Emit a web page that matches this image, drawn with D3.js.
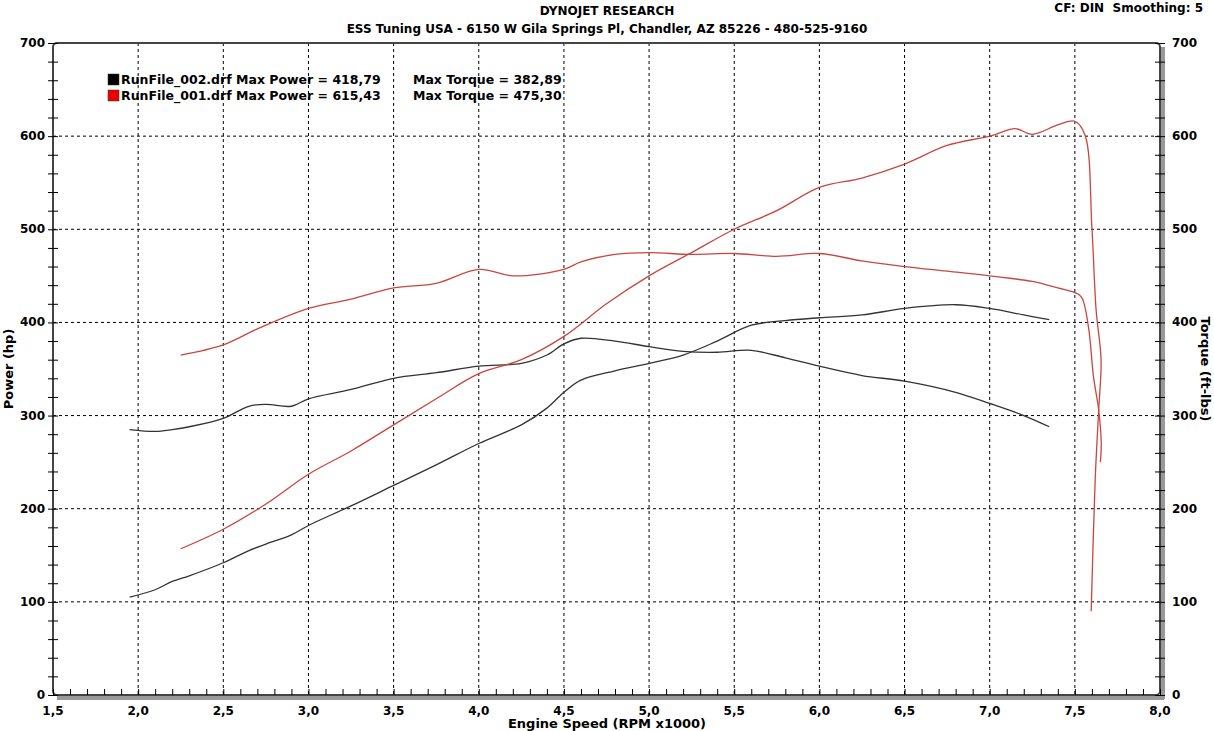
<!DOCTYPE html>
<html><head><meta charset="utf-8">
<script src="https://cdn.jsdelivr.net/npm/d3@7"></script>
<style>body{margin:0;background:#fff}svg{font-family:"DejaVu Sans",Verdana,sans-serif;font-weight:bold}</style>
</head><body><div id="chart"></div>
<script>
// run 002 (black)
const rpm002 = [1.95,2.1,2.2,2.3,2.5,2.65,2.75,2.9,3.0,3.25,3.5,3.75,4.0,4.25,4.4,4.5,4.6,4.8,5.0,5.2,5.4,5.6,5.8,6.0,6.25,6.5,6.8,7.0,7.2,7.35]
const power002 = [105,113,122,128,142,155,162,172,182,203,225,247,270,290,308,325,338,348,356,365,380,397,402,405,408,415,419,415,408,403]
const torque002 = [285,283,285,288,297,310,312,310,318,328,340,346,353,356,365,377,383,380,374,369,368,370,362,353,343,337,325,313,300,288]
// run 001 (red)
const rpmP001 = [2.25,2.5,2.75,3.0,3.25,3.5,3.75,4.0,4.25,4.5,4.75,5.0,5.25,5.5,5.75,6.0,6.25,6.5,6.75,7.0,7.15,7.25,7.4,7.5,7.56,7.6,7.625,7.654,7.64,7.62,7.596]
const power001 = [157,178,205,237,262,290,318,345,360,385,420,450,475,500,520,545,555,570,590,600,608,602,612,616,601,502,413,360,306,234,90]
const rpmT001 = [2.25,2.5,2.7,3.0,3.25,3.5,3.75,4.0,4.2,4.5,4.6,4.8,5.0,5.25,5.5,5.75,6.0,6.25,6.5,6.75,7.0,7.25,7.4,7.5,7.54,7.58,7.61,7.64,7.655,7.65]
const torque001 = [365,376,393,415,425,437,442,457,450,457,465,473,475,473,474,471,474,466,460,455,450,444,437,432,427,395,341,306,270,250]
const xTicks = [1.5,2.0,2.5,3.0,3.5,4.0,4.5,5.0,5.5,6.0,6.5,7.0,7.5,8.0]
const yTicks = [0,100,200,300,400,500,600,700]
const legend = [
  {name:"RunFile_002.drf", power:"418,79", torque:"382,89", color:"#000"},
  {name:"RunFile_001.drf", power:"615,43", torque:"475,30", color:"#e00"}
]

const width = 1214, height = 731
const margin = {top: 43, right: 54, bottom: 36, left: 53}
const svg = d3.select("#chart").append("svg").attr("width", width).attr("height", height)

const x = d3.scaleLinear().domain([1.5, 8.0]).range([margin.left, width - margin.right])
const y = d3.scaleLinear().domain([0, 700]).range([height - margin.bottom, margin.top])
const fmt = d => d3.format(".1f")(d).replace(".", ",")

// shadow
svg.append("rect").attr("x", x(1.5) + 4).attr("y", y(0)).attr("width", x(8) - x(1.5)).attr("height", 5).attr("fill", "#999")
svg.append("rect").attr("x", x(8)).attr("y", y(700) + 4).attr("width", 5).attr("height", y(0) - y(700)).attr("fill", "#999")

// grid
svg.append("g").selectAll("line").data(xTicks.slice(1, -1)).join("line")
  .attr("x1", d => x(d)).attr("x2", d => x(d)).attr("y1", y(700)).attr("y2", y(0))
  .attr("stroke", "#000").attr("stroke-dasharray", "3,3")
svg.append("g").selectAll("line").data(yTicks.slice(1, -1)).join("line")
  .attr("x1", x(1.5)).attr("x2", x(8)).attr("y1", d => y(d)).attr("y2", d => y(d))
  .attr("stroke", "#000").attr("stroke-dasharray", "3,3")

// frame
svg.append("rect").attr("x", x(1.5)).attr("y", y(700)).attr("width", x(8) - x(1.5)).attr("height", y(0) - y(700))
  .attr("fill", "none").attr("stroke", "#444").attr("stroke-width", 2).attr("rx", 4)

// axes
const xAxis = svg.append("g").attr("transform", `translate(0,${y(0)})`)
  .call(d3.axisBottom(x).tickValues(d3.range(15, 81).map(d => d / 10)).tickSize(-6).tickFormat(""))
xAxis.select(".domain").remove()
svg.append("g").selectAll("text").data(xTicks).join("text")
  .attr("x", d => x(d)).attr("y", y(0) + 20).attr("text-anchor", "middle").attr("font-size", 12).text(fmt)

const yMinor = d3.range(0, 701, 20)
svg.append("g").attr("transform", `translate(${x(1.5)},0)`)
  .call(d3.axisLeft(y).tickValues(yMinor).tickFormat(""))
  .call(g => g.select(".domain").remove())
  .selectAll("line").attr("x2", 5).attr("x1", -5)
svg.append("g").attr("transform", `translate(${x(8)},0)`)
  .call(d3.axisRight(y).tickValues(yMinor).tickFormat(""))
  .call(g => g.select(".domain").remove())
  .selectAll("line").attr("x1", -5).attr("x2", 5)
svg.append("g").selectAll("text").data(yTicks).join("text")
  .attr("x", x(1.5) - 8).attr("y", d => y(d) + 4).attr("text-anchor", "end").attr("font-size", 12).text(d => d)
svg.append("g").selectAll("text").data(yTicks).join("text")
  .attr("x", x(8) + 12).attr("y", d => y(d) + 4).attr("text-anchor", "start").attr("font-size", 12).text(d => d)

// lines
const line = (xs, ys) => d3.line().x((d, i) => x(xs[i])).y(d => y(d)).curve(d3.curveCatmullRom)(ys)
svg.append("path").attr("d", line(rpm002, power002)).attr("fill", "none").attr("stroke", "#333").attr("stroke-width", 1.3)
svg.append("path").attr("d", line(rpm002, torque002)).attr("fill", "none").attr("stroke", "#333").attr("stroke-width", 1.3)
svg.append("path").attr("d", line(rpmP001, power001)).attr("fill", "none").attr("stroke", "#c8463f").attr("stroke-width", 1.3)
svg.append("path").attr("d", line(rpmT001, torque001)).attr("fill", "none").attr("stroke", "#c8463f").attr("stroke-width", 1.3)

// titles
svg.append("text").attr("x", 607).attr("y", 15).attr("text-anchor", "middle").attr("font-size", 12).text("DYNOJET RESEARCH")
svg.append("text").attr("x", 607).attr("y", 33).attr("text-anchor", "middle").attr("font-size", 12).text("ESS Tuning USA - 6150 W Gila Springs Pl, Chandler, AZ 85226 - 480-525-9160")
svg.append("text").attr("x", 1203).attr("y", 12).attr("text-anchor", "end").attr("font-size", 12).text("CF: DIN  Smoothing: 5").style("white-space", "pre")
svg.append("text").attr("x", 607).attr("y", 728).attr("text-anchor", "middle").attr("font-size", 13).text("Engine Speed (RPM x1000)")
svg.append("text").attr("transform", `translate(13,${(y(0) + y(700)) / 2}) rotate(-90)`).attr("text-anchor", "middle").attr("font-size", 13).text("Power (hp)")
svg.append("text").attr("transform", `translate(1201,${(y(0) + y(700)) / 2}) rotate(90)`).attr("text-anchor", "middle").attr("font-size", 13).text("Torque (ft-lbs)")

// legend
const lg = svg.append("g").selectAll("g").data(legend).join("g").attr("transform", (d, i) => `translate(108,${74 + i * 16})`)
lg.append("rect").attr("width", 11).attr("height", 11).attr("fill", d => d.color).attr("stroke", "#333").attr("stroke-width", 0.5)
lg.append("text").attr("x", 13).attr("y", 10).attr("font-size", 12.5).text(d => `${d.name} Max Power = ${d.power}`)
lg.append("text").attr("x", 305).attr("y", 10).attr("font-size", 12.5).text(d => `Max Torque = ${d.torque}`)
</script></body></html>
